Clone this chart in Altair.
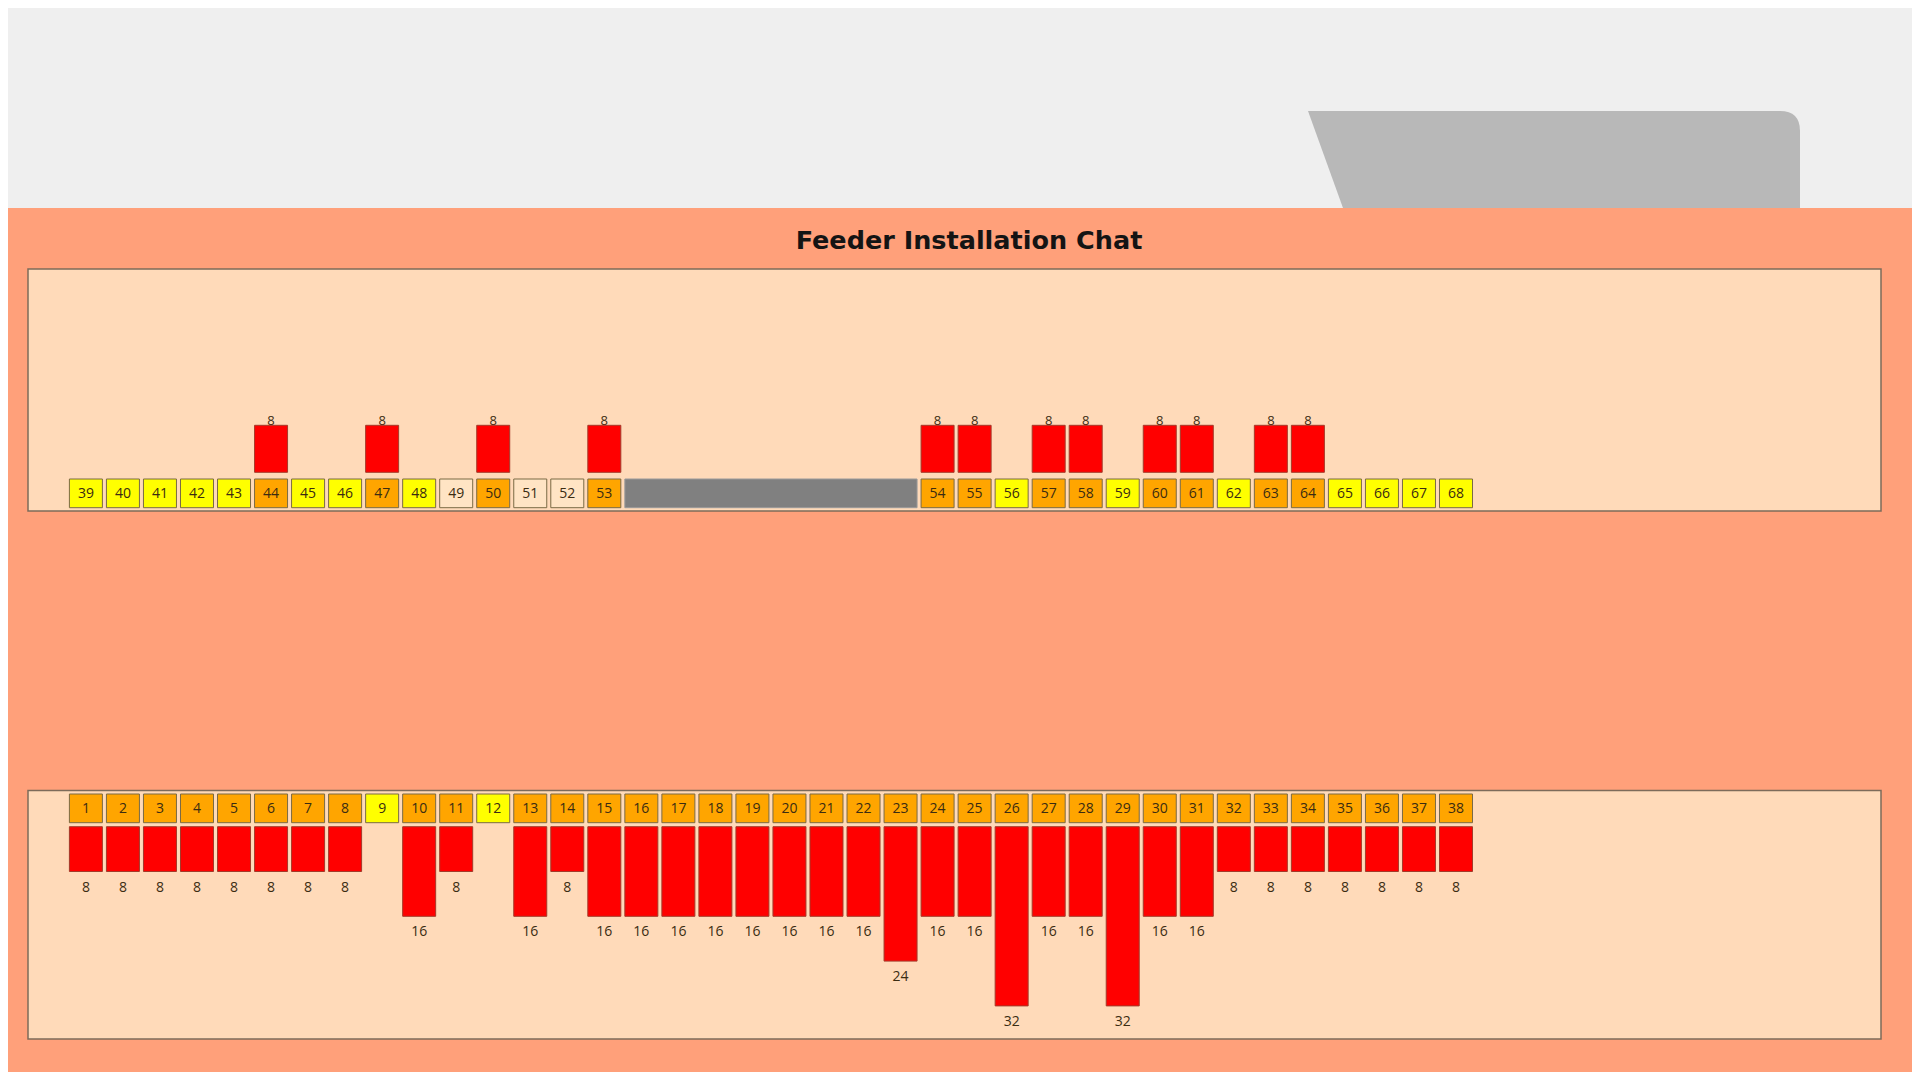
import altair as alt
import pandas as pd

# ---------------- data ----------------
title_text = "Feeder Installation Chat"

bottom_ids = list(range(1, 39))
bottom_values = [8, 8, 8, 8, 8, 8, 8, 8, 0, 16, 8, 0, 16, 8, 16, 16, 16, 16, 16,
                 16, 16, 16, 24, 16, 16, 32, 16, 16, 32, 16, 16, 8, 8, 8, 8, 8, 8, 8]
bottom_status = ["orange"] * 8 + ["yellow", "orange", "orange", "yellow"] + ["orange"] * 26

top_ids = list(range(39, 69))
top_values = [0, 0, 0, 0, 0, 8, 0, 0, 8, 0, 0, 8, 0, 0, 8,
              8, 8, 0, 8, 8, 0, 8, 8, 0, 8, 8, 0, 0, 0, 0]
top_status = ["yellow", "yellow", "yellow", "yellow", "yellow", "orange", "yellow", "yellow",
              "orange", "yellow", "blank", "orange", "blank", "blank", "orange",
              "orange", "orange", "yellow", "orange", "orange", "yellow", "orange", "orange",
              "yellow", "orange", "orange", "yellow", "yellow", "yellow", "yellow"]
blocked_after_id = 53      # a blocked (grey) stretch follows feeder 53
blocked_slots = 8          # it spans 8 feeder positions

# ---------------- tables ----------------
bottom = pd.DataFrame({"id": bottom_ids, "v": bottom_values, "status": bottom_status})
bottom["slot"] = bottom["id"] - 1
bottom["label"] = bottom["id"].astype(str)
bottom["vlabel"] = bottom["v"].astype(str)

top = pd.DataFrame({"id": top_ids, "v": top_values, "status": top_status})
top["slot"] = [i + (blocked_slots if tid > blocked_after_id else 0) for i, tid in enumerate(top_ids)]
top["label"] = top["id"].astype(str)
top["vlabel"] = top["v"].astype(str)

gap_start = int(top.loc[top["id"] == blocked_after_id, "slot"].iloc[0]) + 1
blocked = pd.DataFrame({"s": [gap_start], "e": [gap_start + blocked_slots - 1]})

W, H = 1904, 1064
HALF = 0.4456
LABEL_FONT = "Open Sans"

xs = alt.Scale(domain=[0, 37], range=[77.9, 1448.0], padding=0, zero=False, nice=False)
y_bot = alt.Scale(domain=[0, 32], range=[818.7, 997.9], padding=0)
y_top = alt.Scale(domain=[0, 8], range=[464.3, 417.3], padding=0)

status_scale = alt.Scale(domain=["orange", "yellow", "blank"],
                         range=["#FFA500", "#FFFF00", "#FFE4C4"])

one = pd.DataFrame({"t": [title_text]})

# ---------------- decoration ----------------
top_band = alt.Chart(one).mark_rect(color="#EFEFEF").encode(
    x=alt.value(0), x2=alt.value(W), y=alt.value(0), y2=alt.value(200))

tab_path = "M -1 -0.1972 L 0.9187 -0.1972 Q 1 -0.1972 1 -0.1159 L 1 0.1972 L -0.8577 0.1972 Z"
tab = alt.Chart(one).mark_point(shape=tab_path, filled=True, fill="#B8B8B8",
                                opacity=1, strokeWidth=0, size=242064).encode(
    x=alt.value(1546), y=alt.value(151.5))

title = alt.Chart(one).mark_text(font="DejaVu Sans", fontSize=25.5, fontWeight="bold",
                                 color="#141414", align="center", baseline="middle").encode(
    x=alt.value(961), y=alt.value(233), text="t:N")

panel_top = alt.Chart(one).mark_rect(fill="#FFDAB9", stroke="#7d6b5a", strokeWidth=1.5).encode(
    x=alt.value(20), x2=alt.value(1873), y=alt.value(261), y2=alt.value(503))
panel_bot = alt.Chart(one).mark_rect(fill="#FFDAB9", stroke="#7d6b5a", strokeWidth=1.5).encode(
    x=alt.value(20), x2=alt.value(1873), y=alt.value(782.5), y2=alt.value(1031))

# ---------------- top panel ----------------
top_boxes = alt.Chart(top).transform_calculate(
    x1=f"datum.slot - {HALF}", x2=f"datum.slot + {HALF}").mark_rect(
    stroke="#7a6a45", strokeWidth=1).encode(
    x=alt.X("x1:Q", scale=xs, axis=None), x2="x2:Q",
    y=alt.value(471), y2=alt.value(499.7),
    fill=alt.Fill("status:N", scale=status_scale, legend=None))

top_box_text = alt.Chart(top).mark_text(font=LABEL_FONT, fontSize=14, color="#3b2c12").encode(
    x=alt.X("slot:Q", scale=xs, axis=None), y=alt.value(485.5), text="label:N")

top_gap = alt.Chart(blocked).transform_calculate(
    x1=f"datum.s - {HALF}", x2=f"datum.e + {HALF}").mark_rect(
    fill="#808080", stroke="#9a9a9a", strokeWidth=1).encode(
    x=alt.X("x1:Q", scale=xs, axis=None), x2="x2:Q",
    y=alt.value(471), y2=alt.value(499.7))

top_bar_text = alt.Chart(top).transform_filter("datum.v > 0").mark_text(
    font=LABEL_FONT, fontSize=13, color="#3b2c12", baseline="bottom", dy=3).encode(
    x=alt.X("slot:Q", scale=xs, axis=None),
    y=alt.Y("v:Q", scale=y_top, axis=None), text="vlabel:N")

top_bars = alt.Chart(top).transform_filter("datum.v > 0").mark_bar(
    size=33, color="#FF0000", stroke="#a33a2a", strokeWidth=1).encode(
    x=alt.X("slot:Q", scale=xs, axis=None),
    y=alt.Y("v:Q", scale=y_top, axis=None))

# ---------------- bottom panel ----------------
bot_boxes = alt.Chart(bottom).transform_calculate(
    x1=f"datum.slot - {HALF}", x2=f"datum.slot + {HALF}").mark_rect(
    stroke="#7a6a45", strokeWidth=1).encode(
    x=alt.X("x1:Q", scale=xs, axis=None), x2="x2:Q",
    y=alt.value(786), y2=alt.value(814.7),
    fill=alt.Fill("status:N", scale=status_scale, legend=None))

bot_box_text = alt.Chart(bottom).mark_text(font=LABEL_FONT, fontSize=14, color="#3b2c12").encode(
    x=alt.X("slot:Q", scale=xs, axis=None), y=alt.value(800.5), text="label:N")

bot_bars = alt.Chart(bottom).transform_filter("datum.v > 0").mark_bar(
    size=33, color="#FF0000", stroke="#a33a2a", strokeWidth=1).encode(
    x=alt.X("slot:Q", scale=xs, axis=None),
    y=alt.Y("v:Q", scale=y_bot, axis=None))

bot_bar_text = alt.Chart(bottom).transform_filter("datum.v > 0").mark_text(
    font=LABEL_FONT, fontSize=14, color="#3b2c12", baseline="middle", dy=16).encode(
    x=alt.X("slot:Q", scale=xs, axis=None),
    y=alt.Y("v:Q", scale=y_bot, axis=None), text="vlabel:N")

chart = alt.layer(
    top_band, tab, title, panel_top, panel_bot,
    top_boxes, top_box_text, top_gap, top_bar_text, top_bars,
    bot_boxes, bot_box_text, bot_bars, bot_bar_text,
).resolve_scale(y="independent").properties(
    width=W, height=H,
    autosize=alt.AutoSizeParams(type="none"),
    padding=0,
    background="#FFA07A",
).configure_view(strokeWidth=0)

chart.save("out.html", embed_options={"renderer": "svg", "actions": False})
